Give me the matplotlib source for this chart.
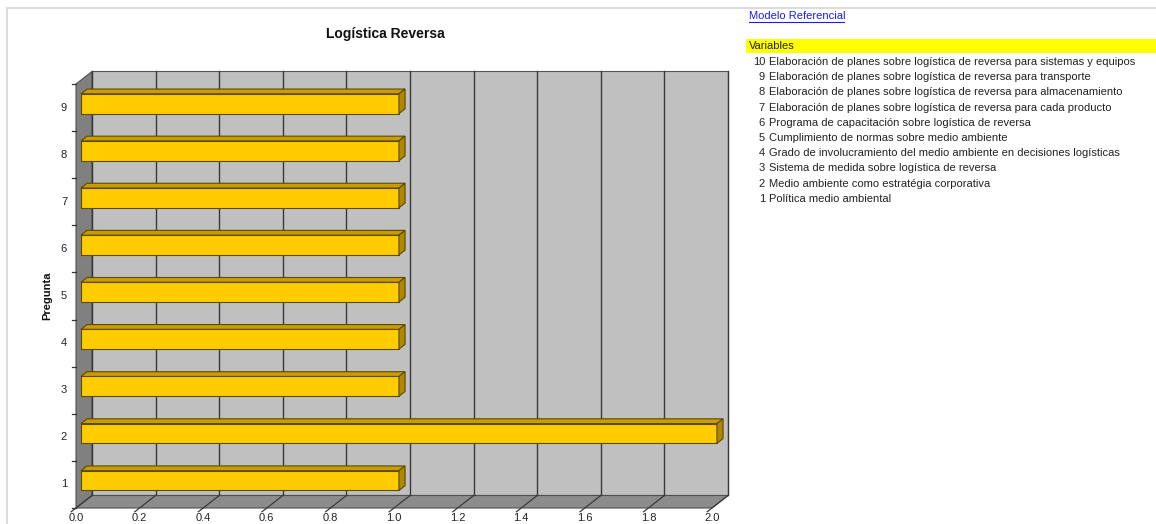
import matplotlib
matplotlib.use("Agg")
import matplotlib.pyplot as plt
from matplotlib.patches import Polygon
from matplotlib.lines import Line2D

plt.rcParams["font.family"] = ["Liberation Sans", "DejaVu Sans"]

# data
preguntas = [1, 2, 3, 4, 5, 6, 7, 8, 9]
valores = [1.0, 2.0, 1.0, 1.0, 1.0, 1.0, 1.0, 1.0, 1.0]
x_ticks = [0.0, 0.2, 0.4, 0.6, 0.8, 1.0, 1.2, 1.4, 1.6, 1.8, 2.0]
variables = [
    "Elaboración de planes sobre logística de reversa para sistemas y equipos",
    "Elaboración de planes sobre logística de reversa para transporte",
    "Elaboración de planes sobre logística de reversa para almacenamiento",
    "Elaboración de planes sobre logística de reversa para cada producto",
    "Programa de capacitación sobre logística de reversa",
    "Cumplimiento de normas sobre medio ambiente",
    "Grado de involucramiento del medio ambiente en decisiones logísticas",
    "Sistema de medida sobre logística de reversa",
    "Medio ambiente como estratégia corporativa",
    "Política medio ambiental",
]
variable_nums = [10, 9, 8, 7, 6, 5, 4, 3, 2, 1]

W, H = 1156, 524
fig = plt.figure(figsize=(W / 100, H / 100), dpi=100)

# front plane of the 3d box: x 0..2 -> px 76..712, y 0.5..9.5 -> px 508..84
ax = fig.add_axes([76 / W, 1 - 508 / H, (712 - 76) / W, (508 - 84) / H])
ax.set_xlim(0, 2)
ax.set_ylim(0.5, 9.5)
ax.axis("off")

# depth offset of the back plane, in data units
DX = 16 / 318.0
DY = 12.5 / 47.1


def pt(x, y, d):
    return (x + d * DX, y + d * DY)


def poly(points, fc, ec="#404040", lw=0.8, z=1):
    ax.add_patch(Polygon(points, closed=True, facecolor=fc, edgecolor=ec,
                         linewidth=lw, clip_on=False, zorder=z, joinstyle="miter"))


y0, y1 = 0.5, 9.5
xmax = x_ticks[-1]

# walls
poly([pt(0, y0, 1), pt(xmax, y0, 1), pt(xmax, y1, 1), pt(0, y1, 1)], "#c0c0c0", "#555555", 0.8)
poly([pt(0, y0, 0), pt(0, y1, 0), pt(0, y1, 1), pt(0, y0, 1)], "#808080", "#505050", 0.8)
poly([pt(0, y0, 0), pt(xmax, y0, 0), pt(xmax, y0, 1), pt(0, y0, 1)], "#8c8c8c", "#505050", 0.8)

# gridlines on back wall and floor
for xv in x_ticks:
    xa, ya = pt(xv, y0, 1)
    xb, yb = pt(xv, y1, 1)
    ax.add_line(Line2D([xa, xb], [ya, yb], color="#3a3a3a", lw=1.0, clip_on=False, zorder=2))
    xc, yc = pt(xv, y0, -0.3)
    ax.add_line(Line2D([xa, xc], [ya, yc], color="#3a3a3a", lw=0.9, clip_on=False, zorder=2))
    ax.text(xv, y0 - 0.1, f"{xv:.1f}", ha="center", va="top", fontsize=8, color="#222222",
            clip_on=False)

# left axis ticks and labels
for k in range(len(preguntas) + 1):
    yt = y0 + k
    ax.add_line(Line2D([0, -0.012], [yt, yt], color="#333333", lw=0.9, clip_on=False, zorder=2))
for p in preguntas:
    ax.text(-0.028, p, str(p), ha="right", va="center", fontsize=8, color="#222222")

# bars
df, db = 0.31, 0.69
hh = 0.21
for p, v in zip(preguntas, valores):
    poly([pt(0, p - hh, df), pt(v, p - hh, df), pt(v, p + hh, df), pt(0, p + hh, df)],
         "#ffcc00", "#5c4a00", 0.8, 5)
    poly([pt(0, p + hh, df), pt(v, p + hh, df), pt(v, p + hh, db), pt(0, p + hh, db)],
         "#c99c00", "#5c4a00", 0.8, 5)
    poly([pt(v, p - hh, df), pt(v, p + hh, df), pt(v, p + hh, db), pt(v, p - hh, db)],
         "#ad8800", "#5c4a00", 0.8, 5)

# titles
fig.text(385 / W, 1 - 34 / H, "Logística Reversa", ha="center", va="center",
         fontsize=10, fontweight="bold", color="#111111")
fig.text(47 / W, 1 - 296 / H, "Pregunta", ha="center", va="center", rotation=90,
         fontsize=8, fontweight="bold", color="#111111")

# frame lines of the sheet
fig.add_artist(Line2D([7 / W, 1], [1 - 8 / H, 1 - 8 / H], color="#dcdcdc", lw=1.5))
fig.add_artist(Line2D([7 / W, 7 / W], [1 - 8 / H, 0], color="#dcdcdc", lw=1.5))

# right panel
fig.text(749 / W, 1 - 16 / H, "Modelo Referencial", ha="left", va="center",
         fontsize=8, color="#1a1aff")
fig.add_artist(Line2D([749 / W, 844 / W], [1 - 22 / H, 1 - 22 / H], color="#1a1aff", lw=0.8))
fig.patches.append(plt.Rectangle((746 / W, 1 - 53 / H), (W - 746) / W, 14 / H,
                                 transform=fig.transFigure, facecolor="#ffff00",
                                 edgecolor="none", figure=fig))
fig.text(749 / W, 1 - 46 / H, "Variables", ha="left", va="center", fontsize=8, color="#222222")
for i, (n, t) in enumerate(zip(variable_nums, variables)):
    yy = 1 - (62 + i * 15.2) / H
    fig.text(765 / W, yy, str(n), ha="right", va="center", fontsize=8, color="#222222")
    fig.text(769 / W, yy, t, ha="left", va="center", fontsize=8, color="#222222")

fig.savefig("out.png", dpi=100, facecolor="white")
